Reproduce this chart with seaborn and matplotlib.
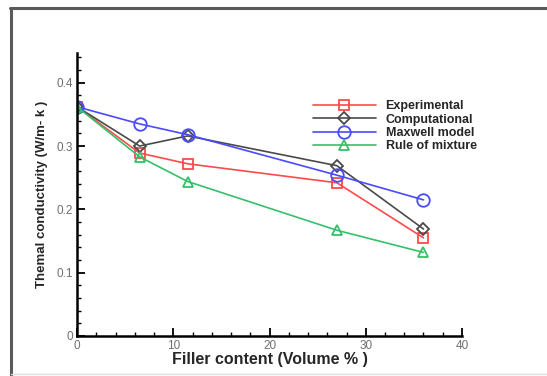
import pandas as pd
import matplotlib.pyplot as plt
import seaborn as sns
from matplotlib.lines import Line2D
from matplotlib.ticker import MultipleLocator, FuncFormatter

# Data
filler = [0, 6.5, 11.5, 27, 36]
experimental = [0.362, 0.289, 0.272, 0.242, 0.155]
computational = [0.362, 0.300, 0.316, 0.269, 0.169]
maxwell = [0.362, 0.335, 0.318, 0.254, 0.215]
rule_of_mixture = [0.362, 0.283, 0.244, 0.167, 0.132]

series = {
    'Experimental': experimental,
    'Computational': computational,
    'Maxwell model': maxwell,
    'Rule of mixture': rule_of_mixture,
}
colors = ['#ff4a4a', '#4a4a4a', '#4a4aff', '#35c06a']
markers = ['s', 'D', 'o', '^']
msizes = [6.5, 6.5, 9, 7]

sns.set_style('ticks')
plt.rcParams['font.family'] = ['Liberation Sans', 'DejaVu Sans']

fig = plt.figure(figsize=(5.47, 3.76), dpi=100)
ax = fig.add_axes([0.1408, 0.1064, 0.7038, 0.7527])

for (name, vals), c, m, ms in zip(series.items(), colors, markers, msizes):
    df = pd.DataFrame({'x': filler, 'y': vals})
    sns.lineplot(data=df, x='x', y='y', ax=ax, color=c, marker=m, markersize=ms,
                 markerfacecolor='none', markeredgecolor=c, markeredgewidth=1.3,
                 linewidth=1.2, label=name)

ax.set_xlim(0, 40)
ax.set_ylim(0, 0.447)
ax.xaxis.set_major_locator(MultipleLocator(10))
ax.xaxis.set_minor_locator(MultipleLocator(2))
ax.yaxis.set_major_locator(MultipleLocator(0.1))
ax.yaxis.set_minor_locator(MultipleLocator(0.02))
ax.yaxis.set_major_formatter(FuncFormatter(lambda v, p: '0' if abs(v) < 1e-9 else f'{v:.1f}'))
ax.xaxis.set_major_formatter(FuncFormatter(lambda v, p: f'{v:.0f}'))

ax.tick_params(which='major', direction='in', length=6, width=1.3, labelsize=8.5,
               labelcolor='#707070', color='black', pad=3)
ax.tick_params(which='minor', direction='in', length=3, width=1.0, color='black')
sns.despine(ax=ax)
for s in ['left', 'bottom']:
    ax.spines[s].set_linewidth(1.8)
    ax.spines[s].set_color('black')

ax.set_xlabel('Filler content (Volume % )', fontsize=11.5, fontweight='bold', labelpad=0)
ax.set_ylabel('Themal conductivity (W/m- k )', fontsize=9.5, fontweight='bold', labelpad=6)

ax.legend(loc='upper left', bbox_to_anchor=(0.6, 0.85), frameon=False,
          handlelength=5.0, labelspacing=0.1, handletextpad=0.8, borderaxespad=0,
          prop={'weight': 'bold', 'size': 9})

# frame around the figure
W, H = 547, 376
fig.add_artist(Line2D([10 / W, 1], [1 - 8 / H, 1 - 8 / H], color='#5a5a5a', lw=2.2))
fig.add_artist(Line2D([11 / W, 11 / W], [0, 1 - 8 / H], color='#5a5a5a', lw=2.2))
fig.add_artist(Line2D([11 / W, 1], [2 / H, 2 / H], color='#dddddd', lw=1))

plt.savefig('out.png', dpi=100)
plt.close()
